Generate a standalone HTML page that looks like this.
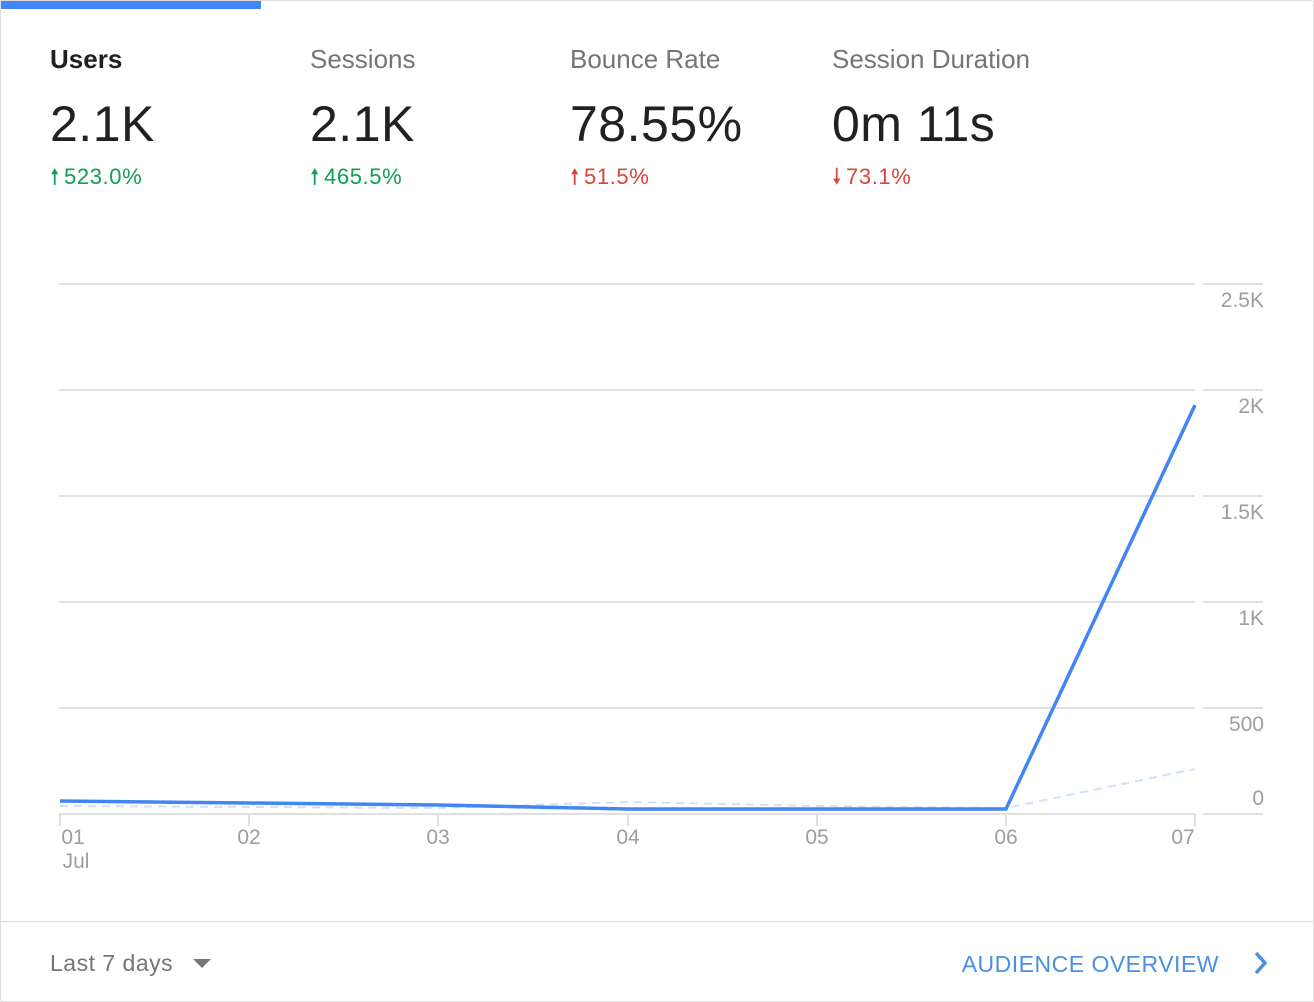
<!DOCTYPE html>
<html><head><style>
body{margin:0;width:1314px;height:1002px;background:#fff;font-family:"Liberation Sans",sans-serif;overflow:hidden}
.card{position:absolute;left:0;top:0;width:1312px;height:1000px;border:1px solid #ddd;border-radius:2px}
.bar{position:absolute;left:1px;top:1px;width:260px;height:8px;background:#4285f4}
.m{position:absolute;top:44px}
.t{font-size:26px;color:#757575}
.v{font-size:50px;color:#212121;margin-top:20px;letter-spacing:0.5px}
.d{font-size:22px;margin-top:7px;letter-spacing:0.6px}
.d span{display:inline-block;margin-right:4px}
.g{color:#0f9d58}.r{color:#db4437}
.foot{position:absolute;left:1px;top:921px;width:1312px;border-top:1px solid #ddd}
</style></head><body>
<div class="card"></div><div class="bar"></div>
<div class="m" style="left:50px"><div class="t" style="color:#212121;font-weight:bold">Users</div><div class="v">2.1K</div><div class="d g"><span>🠕</span>523.0%</div></div>
<div class="m" style="left:310px"><div class="t">Sessions</div><div class="v">2.1K</div><div class="d g"><span>🠕</span>465.5%</div></div>
<div class="m" style="left:570px"><div class="t">Bounce Rate</div><div class="v">78.55%</div><div class="d r"><span>🠕</span>51.5%</div></div>
<div class="m" style="left:832px"><div class="t">Session Duration</div><div class="v">0m 11s</div><div class="d r"><span>🠗</span>73.1%</div></div>
<svg style="position:absolute;left:0;top:0" width="1314" height="1002">
<g stroke="#e0e0e0" stroke-width="2">
<line x1="59" y1="284" x2="1195" y2="284"/><line x1="1203" y1="284" x2="1263" y2="284"/>
<line x1="59" y1="390" x2="1195" y2="390"/><line x1="1203" y1="390" x2="1263" y2="390"/>
<line x1="59" y1="496" x2="1195" y2="496"/><line x1="1203" y1="496" x2="1263" y2="496"/>
<line x1="59" y1="602" x2="1195" y2="602"/><line x1="1203" y1="602" x2="1263" y2="602"/>
<line x1="59" y1="708" x2="1195" y2="708"/><line x1="1203" y1="708" x2="1263" y2="708"/>
<line x1="59" y1="814" x2="1195" y2="814"/><line x1="1203" y1="814" x2="1263" y2="814"/>
<line x1="60" y1="814" x2="60" y2="826"/><line x1="249" y1="814" x2="249" y2="826"/><line x1="438" y1="814" x2="438" y2="826"/><line x1="628" y1="814" x2="628" y2="826"/><line x1="817" y1="814" x2="817" y2="826"/><line x1="1006" y1="814" x2="1006" y2="826"/><line x1="1195" y1="814" x2="1195" y2="826"/>
</g>
<polyline points="60,806 249,807 438,808 628,802 817,806 1006,808 1195,769" fill="none" stroke="#cfe0fb" stroke-width="2" stroke-dasharray="8,6"/>
<polyline points="60,801 249,803 438,805 628,809 817,809 1006,809 1195,405" fill="none" stroke="#4285f4" stroke-width="3.5"/>
<g font-size="21" fill="#9e9e9e" text-anchor="end" font-family="Liberation Sans">
<text x="1264" y="307">2.5K</text><text x="1264" y="413">2K</text><text x="1264" y="519">1.5K</text><text x="1264" y="625">1K</text><text x="1264" y="731">500</text><text x="1264" y="805">0</text>
</g>
<g font-size="21" fill="#9e9e9e" font-family="Liberation Sans" text-anchor="middle">
<text x="73" y="844">01</text><text x="76" y="868">Jul</text><text x="249" y="844">02</text><text x="438" y="844">03</text><text x="628" y="844">04</text><text x="817" y="844">05</text><text x="1006" y="844">06</text><text x="1183" y="844">07</text>
</g>
<text x="50" y="971" font-size="23" fill="#757575" font-family="Liberation Sans" letter-spacing="0.5">Last 7 days</text>
<polygon points="193,959 211,959 202,968" fill="#757575"/>
<text x="1219" y="972" font-size="23" fill="#4a90e2" text-anchor="end" font-family="Liberation Sans" letter-spacing="0.5">AUDIENCE OVERVIEW</text>
<polyline points="1256,953 1265,963 1256,973" fill="none" stroke="#4a90e2" stroke-width="3.5"/>
</svg>
<div class="foot"></div>
</body></html>
